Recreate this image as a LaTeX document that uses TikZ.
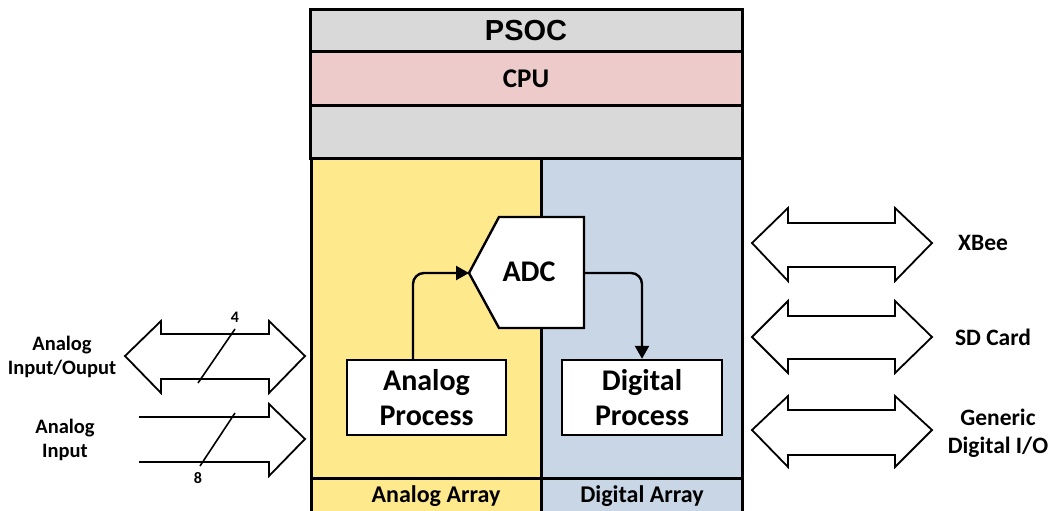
\documentclass[tikz,border=0pt]{standalone}
\usepackage{fontspec}
\setmainfont{Carlito}
\newfontfamily\psocfont{Liberation Sans}
\usetikzlibrary{arrows.meta}
\definecolor{psocgray}{HTML}{D9D9D9}
\definecolor{cpupink}{HTML}{EDCBCB}
\definecolor{anayellow}{HTML}{FFE98D}
\definecolor{digblue}{HTML}{C8D6E6}
\begin{document}
\begin{tikzpicture}[x=1pt,y=-1pt,
  blockbox/.style={draw=black,line width=3pt,inner sep=0pt,outer sep=0pt},
  procbox/.style={draw=black,line width=2.4pt,fill=white,inner sep=0pt,align=center,
     font=\fontsize{30}{35}\selectfont\bfseries},
  busarrow/.style={draw=black,line width=1.8pt,fill=white,line join=miter},
  conn/.style={draw=black,line width=2.4pt,rounded corners=11pt},
  sidelabel/.style={align=center,font=\fontsize{20.5}{24}\selectfont\bfseries},
  rightlabel/.style={align=center,font=\fontsize{23.5}{28}\selectfont\bfseries},
  arraylabel/.style={font=\fontsize{24}{28}\selectfont\bfseries},
  numlabel/.style={font=\fontsize{16}{18}\selectfont\bfseries}]
\useasboundingbox (0,0) rectangle (1055,511);
% main blocks
\node[blockbox,fill=psocgray,minimum width=432pt,minimum height=42pt,
  font=\psocfont\fontsize{29}{32}\selectfont\bfseries] (psoc) at (526,31) {PSOC};
\node[blockbox,fill=cpupink,minimum width=432pt,minimum height=53pt,
  font=\fontsize{27}{30}\selectfont\bfseries] (cpu) at (526,78.5) {CPU};
\node[blockbox,fill=psocgray,minimum width=432pt,minimum height=53pt] (mid) at (526,131.5) {};
\node[blockbox,fill=anayellow,minimum width=231pt,minimum height=320pt] (ana) at (426.5,318) {};
\node[blockbox,fill=digblue,minimum width=201pt,minimum height=320pt] (dig) at (642,318) {};
\node[blockbox,fill=anayellow,minimum width=231pt,minimum height=40pt] (anarow) at (426.5,498) {};
\node[blockbox,fill=digblue,minimum width=201pt,minimum height=40pt] (digrow) at (642,498) {};
\node[arraylabel] (analab) at (436,496) {Analog Array};
\node[arraylabel] (diglab) at (642,496) {Digital Array};
% ADC
\coordinate (adcw) at (469,273);
\coordinate (adce) at (584,273);
\draw[line width=2.4pt,fill=white,line join=miter] (adcw) -- (499,217) -- (584,217) -- (584,328) -- (499,328) -- cycle;
\node[font=\fontsize{30}{32}\selectfont\bfseries] (adc) at (529,272) {ADC};
% process boxes
\node[procbox,minimum width=159pt,minimum height=75pt] (ap) at (426.5,397.5) {Analog\\Process};
\node[procbox,minimum width=160pt,minimum height=75pt] (dp) at (642,397.5) {Digital\\Process};
\draw[conn,-{Triangle[length=13pt,width=14pt]}] ([xshift=-13.5pt]ap.north) |- (adcw);
\draw[conn,-{Triangle[length=13pt,width=14pt]}] (adce) -| (dp.north);
% left side
\draw[busarrow] (125,356) -- (161,321) -- (161,334) -- (269,334) -- (269,321) -- (305,356)
  -- (269,393) -- (269,379) -- (161,379) -- (161,393) -- cycle;
\draw[busarrow,fill=none] (139,417) -- (269,417) -- (269,404) -- (305,439) -- (269,476) -- (269,462) -- (139,462);
\coordinate (s1a) at (198,383); \coordinate (s1b) at (235,329);
\coordinate (s2a) at (200,466); \coordinate (s2b) at (235,413);
\draw[line width=1.6pt] (s1a) -- (s1b);
\draw[line width=1.6pt] (s2a) -- (s2b);
\node[numlabel] (n4) at (235,317) {4};
\node[numlabel] (n8) at (198,478) {8};
\node[sidelabel] (aio) at (62,357) {Analog\\Input/Ouput};
\node[sidelabel] (ain) at (65,440) {Analog\\Input};
% right side
\draw[busarrow] (752,243) -- (788,208) -- (788,223) -- (895,223) -- (895,208) -- (932,243)
  -- (895,281) -- (895,267) -- (788,267) -- (788,281) -- cycle;
\draw[busarrow] (752,337) -- (788,301) -- (788,316) -- (895,316) -- (895,301) -- (932,337)
  -- (895,373) -- (895,359) -- (788,359) -- (788,373) -- cycle;
\draw[busarrow] (752,430) -- (788,396) -- (788,410) -- (895,410) -- (895,396) -- (932,430)
  -- (895,467) -- (895,455) -- (788,455) -- (788,467) -- cycle;
\node[rightlabel] (xbee) at (983,243) {XBee};
\node[rightlabel] (sd) at (993,337) {SD Card};
\node[rightlabel] (gio) at (998,433) {Generic\\Digital I/O};
\end{tikzpicture}
\end{document}
